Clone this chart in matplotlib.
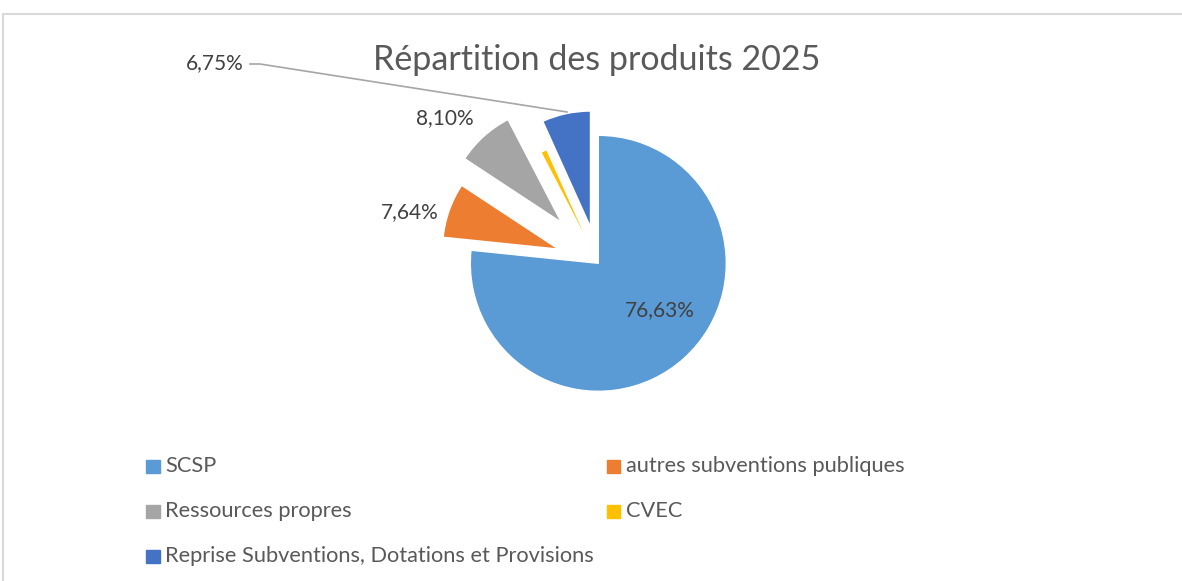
import matplotlib.pyplot as plt
from matplotlib.lines import Line2D
from matplotlib.patches import Rectangle

# data
categories = ['SCSP', 'autres subventions publiques', 'Ressources propres',
              'CVEC', 'Reprise Subventions, Dotations et Provisions']
values = [76.63, 7.64, 8.10, 0.88, 6.75]
colors = ['#5B9BD5', '#ED7D31', '#A5A5A5', '#FFC000', '#4472C4']
title = 'Répartition des produits 2025'

# layout (pixels, figure is 1182 x 581)
W, H = 1182, 581
cx, cy, R = 598.3, 263.3, 128.0
explode = [0, 0.33, 0.43, 0.07, 0.29]
radii = [1.0, 0.906, 0.906, 0.906, 0.906]
# label pixel positions, None = no label shown
label_pos = [(660, 310), (410, 212), (445, 118), None, (215, 63)]

plt.rcParams['font.family'] = ['Lato', 'DejaVu Sans']

fig = plt.figure(figsize=(W / 100, H / 100), dpi=100)
ax = fig.add_axes([0, 0, 1, 1])

wedges, _ = ax.pie(values, colors=colors, startangle=90, counterclock=False,
                   explode=explode, radius=1,
                   wedgeprops=dict(edgecolor='white', linewidth=1))
for w, r in zip(wedges, radii):
    w.set_radius(r)

ax.set_xlim(-cx / R, (W - cx) / R)
ax.set_ylim((cy - H) / R, cy / R)
ax.set_aspect('equal')
ax.axis('off')


def px(x, y):
    # pixel (from top left) to figure fraction
    return x / W, 1 - y / H


# data labels
for v, pos in zip(values, label_pos):
    if pos is None:
        continue
    txt = '{:.2f}%'.format(v).replace('.', ',')
    fig.text(*px(*pos), txt, ha='center', va='center', fontsize=15, color='#404040')

# leader line for the Reprise label
xs, ys = zip(px(250, 64), px(260, 64), px(567, 112))
fig.add_artist(Line2D(xs, ys, color='#A6A6A6', lw=1.2))

fig.text(*px(597, 60), title, ha='center', va='center', fontsize=24.5, color='#595959')

# legend
leg_cols = [146, 607]
leg_rows = [466, 511, 556]
for i, (lab, c) in enumerate(zip(categories, colors)):
    x = leg_cols[i % 2]
    y = leg_rows[i // 2]
    x0, y0 = px(x, y + 7)
    fig.add_artist(Rectangle((x0, y0), 13.5 / W, 13.5 / H, color=c,
                             transform=fig.transFigure))
    fig.text(*px(x + 19, y), lab, ha='left', va='center', fontsize=15.7, color='#595959')

# chart border
bx, by = zip(px(3, H), px(3, 13.5), px(W, 13.5))
fig.add_artist(Line2D(bx, by, color='#D9D9D9', lw=1.5))

fig.savefig('out.png', dpi=100, facecolor='white')
